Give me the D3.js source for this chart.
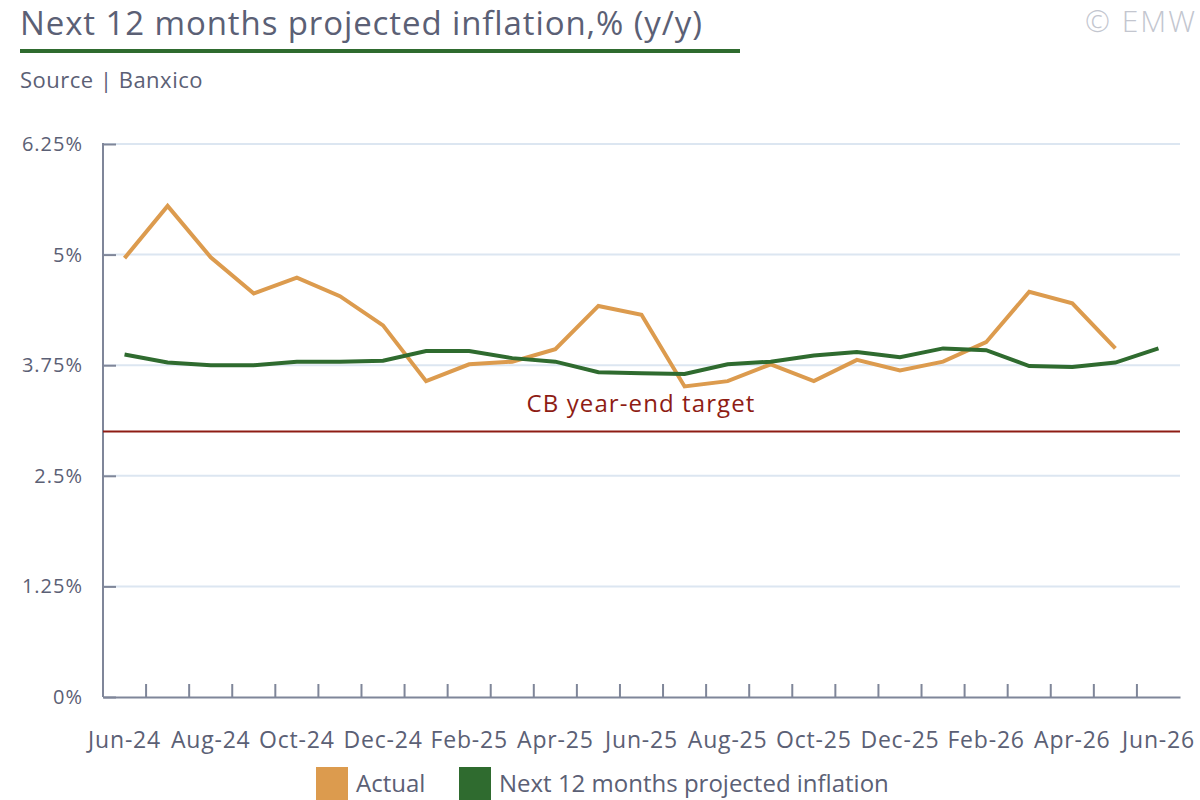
<!DOCTYPE html>
<html>
<head>
<meta charset="utf-8">
<script src="https://cdn.jsdelivr.net/npm/d3@7"></script>
<style>
  body { margin: 0; background: #fff; }
  text { font-family: "Open Sans", Lato, sans-serif; }
</style>
</head>
<body>
<div id="chart"></div>
<script>
// data
const months = ["Jun-24","Jul-24","Aug-24","Sep-24","Oct-24","Nov-24","Dec-24",
  "Jan-25","Feb-25","Mar-25","Apr-25","May-25","Jun-25","Jul-25","Aug-25","Sep-25",
  "Oct-25","Nov-25","Dec-25","Jan-26","Feb-26","Mar-26","Apr-26","May-26","Jun-26"];
const actual = [4.96, 5.55, 4.97, 4.56, 4.74, 4.53, 4.20, 3.57, 3.76, 3.79, 3.93,
  4.42, 4.32, 3.51, 3.57, 3.76, 3.57, 3.81, 3.69, 3.79, 4.01, 4.58, 4.45, 3.94, null];
const projected = [3.87, 3.78, 3.75, 3.75, 3.79, 3.79, 3.80, 3.91, 3.91, 3.83, 3.79,
  3.67, 3.66, 3.65, 3.76, 3.79, 3.86, 3.90, 3.84, 3.94, 3.92, 3.74, 3.73, 3.78, 3.94];
const yTicks = [0, 1.25, 2.5, 3.75, 5, 6.25];
const target = 3;

const width = 1200;
const height = 800;
const marginTop = 144;
const marginRight = 20;
const marginBottom = 103;
const marginLeft = 103;

const textColor = "#5b6075";
const axisColor = "#7f8699";
const gridColor = "#dce6f1";
const orange = "#dc9b4e";
const green = "#2f6b2f";
const red = "#8e1c14";

const svg = d3.select("#chart")
  .append("svg")
  .attr("width", width)
  .attr("height", height)
  .attr("viewBox", [0, 0, width, height]);

const x = d3.scaleBand()
  .domain(months)
  .range([marginLeft, width - marginRight]);

const y = d3.scaleLinear()
  .domain([0, 6.25])
  .range([height - marginBottom, marginTop]);

// title block
svg.append("text")
  .attr("x", 20).attr("y", 35)
  .attr("font-size", 33)
  .attr("letter-spacing", 0.9)
  .attr("fill", textColor)
  .text("Next 12 months projected inflation,% (y/y)");

svg.append("rect")
  .attr("x", 20).attr("y", 49)
  .attr("width", 720).attr("height", 4)
  .attr("fill", green);

svg.append("text")
  .attr("x", 20).attr("y", 88)
  .attr("font-size", 22)
  .attr("letter-spacing", 0.5)
  .attr("fill", textColor)
  .text("Source | Banxico");

svg.append("text")
  .attr("x", 1197).attr("y", 32)
  .attr("text-anchor", "end")
  .attr("font-size", 30)
  .attr("font-weight", 300)
  .attr("letter-spacing", 2)
  .attr("fill", "#c3c6cf")
  .text("© EMW");

// gridlines
svg.append("g")
  .selectAll("line")
  .data(yTicks.filter((d) => d > 0))
  .join("line")
  .attr("x1", marginLeft)
  .attr("x2", width - marginRight)
  .attr("y1", (d) => y(d))
  .attr("y2", (d) => y(d))
  .attr("stroke", gridColor)
  .attr("stroke-width", 2);

// y axis
const yAxis = svg.append("g")
  .attr("transform", `translate(${marginLeft},0)`)
  .call(d3.axisRight(y)
    .tickValues(yTicks)
    .tickSize(13)
    .tickFormat((d) => d + "%"));
yAxis.select(".domain").remove();
yAxis.selectAll(".tick line").attr("stroke", axisColor).attr("stroke-width", 2);
yAxis.selectAll(".tick text")
  .attr("x", -20)
  .attr("text-anchor", "end")
  .attr("font-size", 20)
  .attr("letter-spacing", 1)
  .attr("fill", textColor);

svg.append("line")
  .attr("x1", marginLeft).attr("x2", marginLeft)
  .attr("y1", marginTop - 1).attr("y2", height - marginBottom)
  .attr("stroke", axisColor).attr("stroke-width", 2);

// x axis
const xAxis = svg.append("g")
  .attr("transform", `translate(0,${height - marginBottom})`)
  .call(d3.axisBottom(x)
    .tickValues(months.filter((d, i) => i % 2 === 0))
    .tickSize(0)
    .tickPadding(35));
xAxis.select(".domain").attr("stroke", axisColor).attr("stroke-width", 2);
xAxis.selectAll(".tick text")
  .attr("font-size", 23)
  .attr("letter-spacing", 0.8)
  .attr("fill", textColor);

// tick marks on band boundaries
svg.append("g")
  .selectAll("line")
  .data(months.slice(1))
  .join("line")
  .attr("x1", (d) => x(d))
  .attr("x2", (d) => x(d))
  .attr("y1", height - marginBottom)
  .attr("y2", height - marginBottom - 13)
  .attr("stroke", axisColor)
  .attr("stroke-width", 2);

// target line
svg.append("line")
  .attr("x1", marginLeft)
  .attr("x2", width - marginRight)
  .attr("y1", y(target))
  .attr("y2", y(target))
  .attr("stroke", red)
  .attr("stroke-width", 2);

svg.append("text")
  .attr("x", 641)
  .attr("y", y(target) - 20)
  .attr("text-anchor", "middle")
  .attr("font-size", 24)
  .attr("letter-spacing", 1.1)
  .attr("fill", red)
  .text("CB year-end target");

// lines
const line = d3.line()
  .defined((d) => d.v != null)
  .x((d) => x(d.m) + x.bandwidth() / 2)
  .y((d) => y(d.v));

svg.append("path")
  .datum(months.map((m, i) => ({ m: m, v: actual[i] })))
  .attr("fill", "none")
  .attr("stroke", orange)
  .attr("stroke-width", 4)
  .attr("d", line);

svg.append("path")
  .datum(months.map((m, i) => ({ m: m, v: projected[i] })))
  .attr("fill", "none")
  .attr("stroke", green)
  .attr("stroke-width", 4)
  .attr("d", line);

// legend
const legendItems = [
  { name: "Actual", color: orange, x: 316 },
  { name: "Next 12 months projected inflation", color: green, x: 459 },
];
const legend = svg.append("g")
  .selectAll("g")
  .data(legendItems)
  .join("g")
  .attr("transform", (d) => `translate(${d.x},767)`);
legend.append("rect")
  .attr("width", 32).attr("height", 33)
  .attr("fill", (d) => d.color);
legend.append("text")
  .attr("x", 40).attr("y", 25)
  .attr("font-size", 24)
  .attr("fill", textColor)
  .text((d) => d.name);
</script>
</body>
</html>
